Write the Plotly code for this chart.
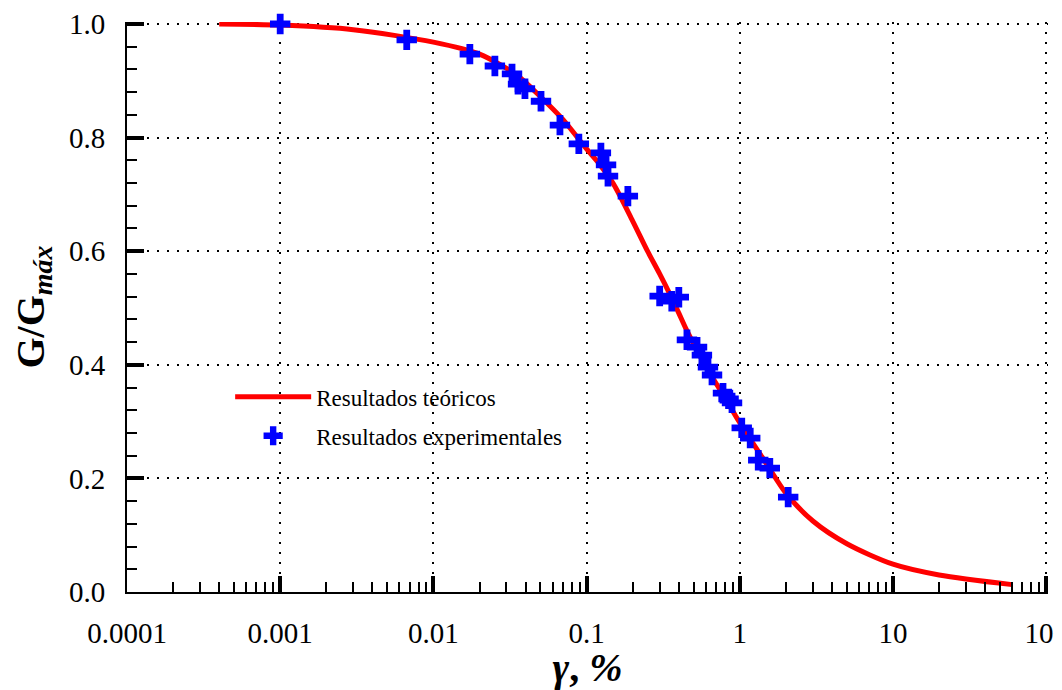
import plotly.graph_objects as go

# Experimental results (gamma in %, G/Gmax)
gamma_exp = [0.001, 0.0067, 0.0173, 0.0252, 0.0326, 0.0357, 0.0396, 0.0504, 0.067, 0.089,
             0.124, 0.134, 0.138, 0.186, 0.30, 0.36, 0.40, 0.452, 0.526, 0.566, 0.620,
             0.659, 0.777, 0.845, 0.89, 1.03, 1.17, 1.32, 1.57, 2.07]
g_exp = [1.000, 0.972, 0.947, 0.926, 0.912, 0.894, 0.886, 0.864, 0.822, 0.789,
         0.773, 0.752, 0.732, 0.697, 0.521, 0.512, 0.519, 0.444, 0.431, 0.417, 0.396,
         0.382, 0.350, 0.340, 0.333, 0.289, 0.271, 0.232, 0.218, 0.167]

# Theoretical curve
gamma_teo = [0.0004, 0.001, 0.003, 0.01, 0.02, 0.035, 0.05, 0.07, 0.1, 0.12, 0.15, 0.2,
             0.25, 0.3, 0.35, 0.4, 0.45, 0.6, 0.8, 1.0, 1.5, 2.0, 3.0, 5.0, 10.0, 20.0, 60.0]
g_teo = [1.000, 0.998, 0.990, 0.968, 0.947, 0.910, 0.872, 0.832, 0.780, 0.755, 0.718, 0.653,
         0.600, 0.560, 0.524, 0.491, 0.461, 0.397, 0.342, 0.298, 0.225, 0.174, 0.125, 0.085,
         0.049, 0.030, 0.013]

x_tickvals = [0.0001, 0.001, 0.01, 0.1, 1, 10, 100]
x_ticktext = ["0.0001", "0.001", "0.01", "0.1", "1", "10", "100"]
y_tickvals = [0.0, 0.2, 0.4, 0.6, 0.8, 1.0]
y_ticktext = ["0.0", "0.2", "0.4", "0.6", "0.8", "1.0"]

SERIF = "Liberation Serif"

fig = go.Figure()
fig.add_trace(go.Scatter(
    x=gamma_teo, y=g_teo, mode="lines", name="Resultados teóricos",
    line=dict(color="#FF0000", width=5, shape="spline", smoothing=0.8),
    cliponaxis=False, legendgroup="teo",
))
fig.add_trace(go.Scatter(
    x=gamma_exp, y=g_exp, mode="markers", name="Resultados experimentales",
    marker=dict(symbol="cross", size=17, color="#0000FF", line=dict(width=0)),
    cliponaxis=False, legendgroup="exp",
))

fig.update_layout(
    width=1054, height=682,
    margin=dict(l=119, r=14, t=14, b=98),
    paper_bgcolor="white", plot_bgcolor="white",
    font=dict(family=SERIF, color="black"),
    legend=dict(
        x=0.112, y=0.38, xanchor="left", yanchor="top",
        bgcolor="rgba(0,0,0,0)", font=dict(family=SERIF, size=23, color="black"),
        itemwidth=76, traceorder="grouped", tracegroupgap=6,
    ),
    showlegend=True,
)

fig.update_xaxes(
    type="log", range=[-4, 2.012], automargin=False,
    tickvals=x_tickvals, ticktext=x_ticktext, ticklabeloverflow="allow",
    tickfont=dict(family=SERIF, size=29, color="black"),
    ticks="inside", ticklen=16, tickwidth=4, tickcolor="black",
    ticklabelstandoff=14,
    showline=True, linecolor="black", linewidth=2, mirror=False,
    showgrid=True, gridcolor="black", gridwidth=1.5, griddash="2px,8px",
    zeroline=False,
    minor=dict(ticks="inside", ticklen=10, tickwidth=1.5, tickcolor="black",
               dtick="D1", showgrid=False),
    title=dict(text="<b><i>γ</i>, <i>%</i></b>",
               font=dict(family=SERIF, size=40, color="black"), standoff=0),
)

fig.update_yaxes(
    range=[0, 1.0035], automargin=False,
    tickvals=y_tickvals, ticktext=y_ticktext,
    tickfont=dict(family=SERIF, size=29, color="black"),
    ticks="inside", ticklen=17, tickwidth=4, tickcolor="black",
    ticklabelstandoff=14,
    showline=True, linecolor="black", linewidth=2, mirror=False,
    showgrid=True, gridcolor="black", gridwidth=1.5, griddash="2px,8px",
    zeroline=False,
    minor=dict(ticks="inside", ticklen=10, tickwidth=1.5, tickcolor="black",
               dtick=0.04, showgrid=False),
    title=dict(text="<b>G/G<sub><i>máx</i></sub></b>",
               font=dict(family=SERIF, size=40, color="black"), standoff=24),
)

fig.write_html("out.html")
